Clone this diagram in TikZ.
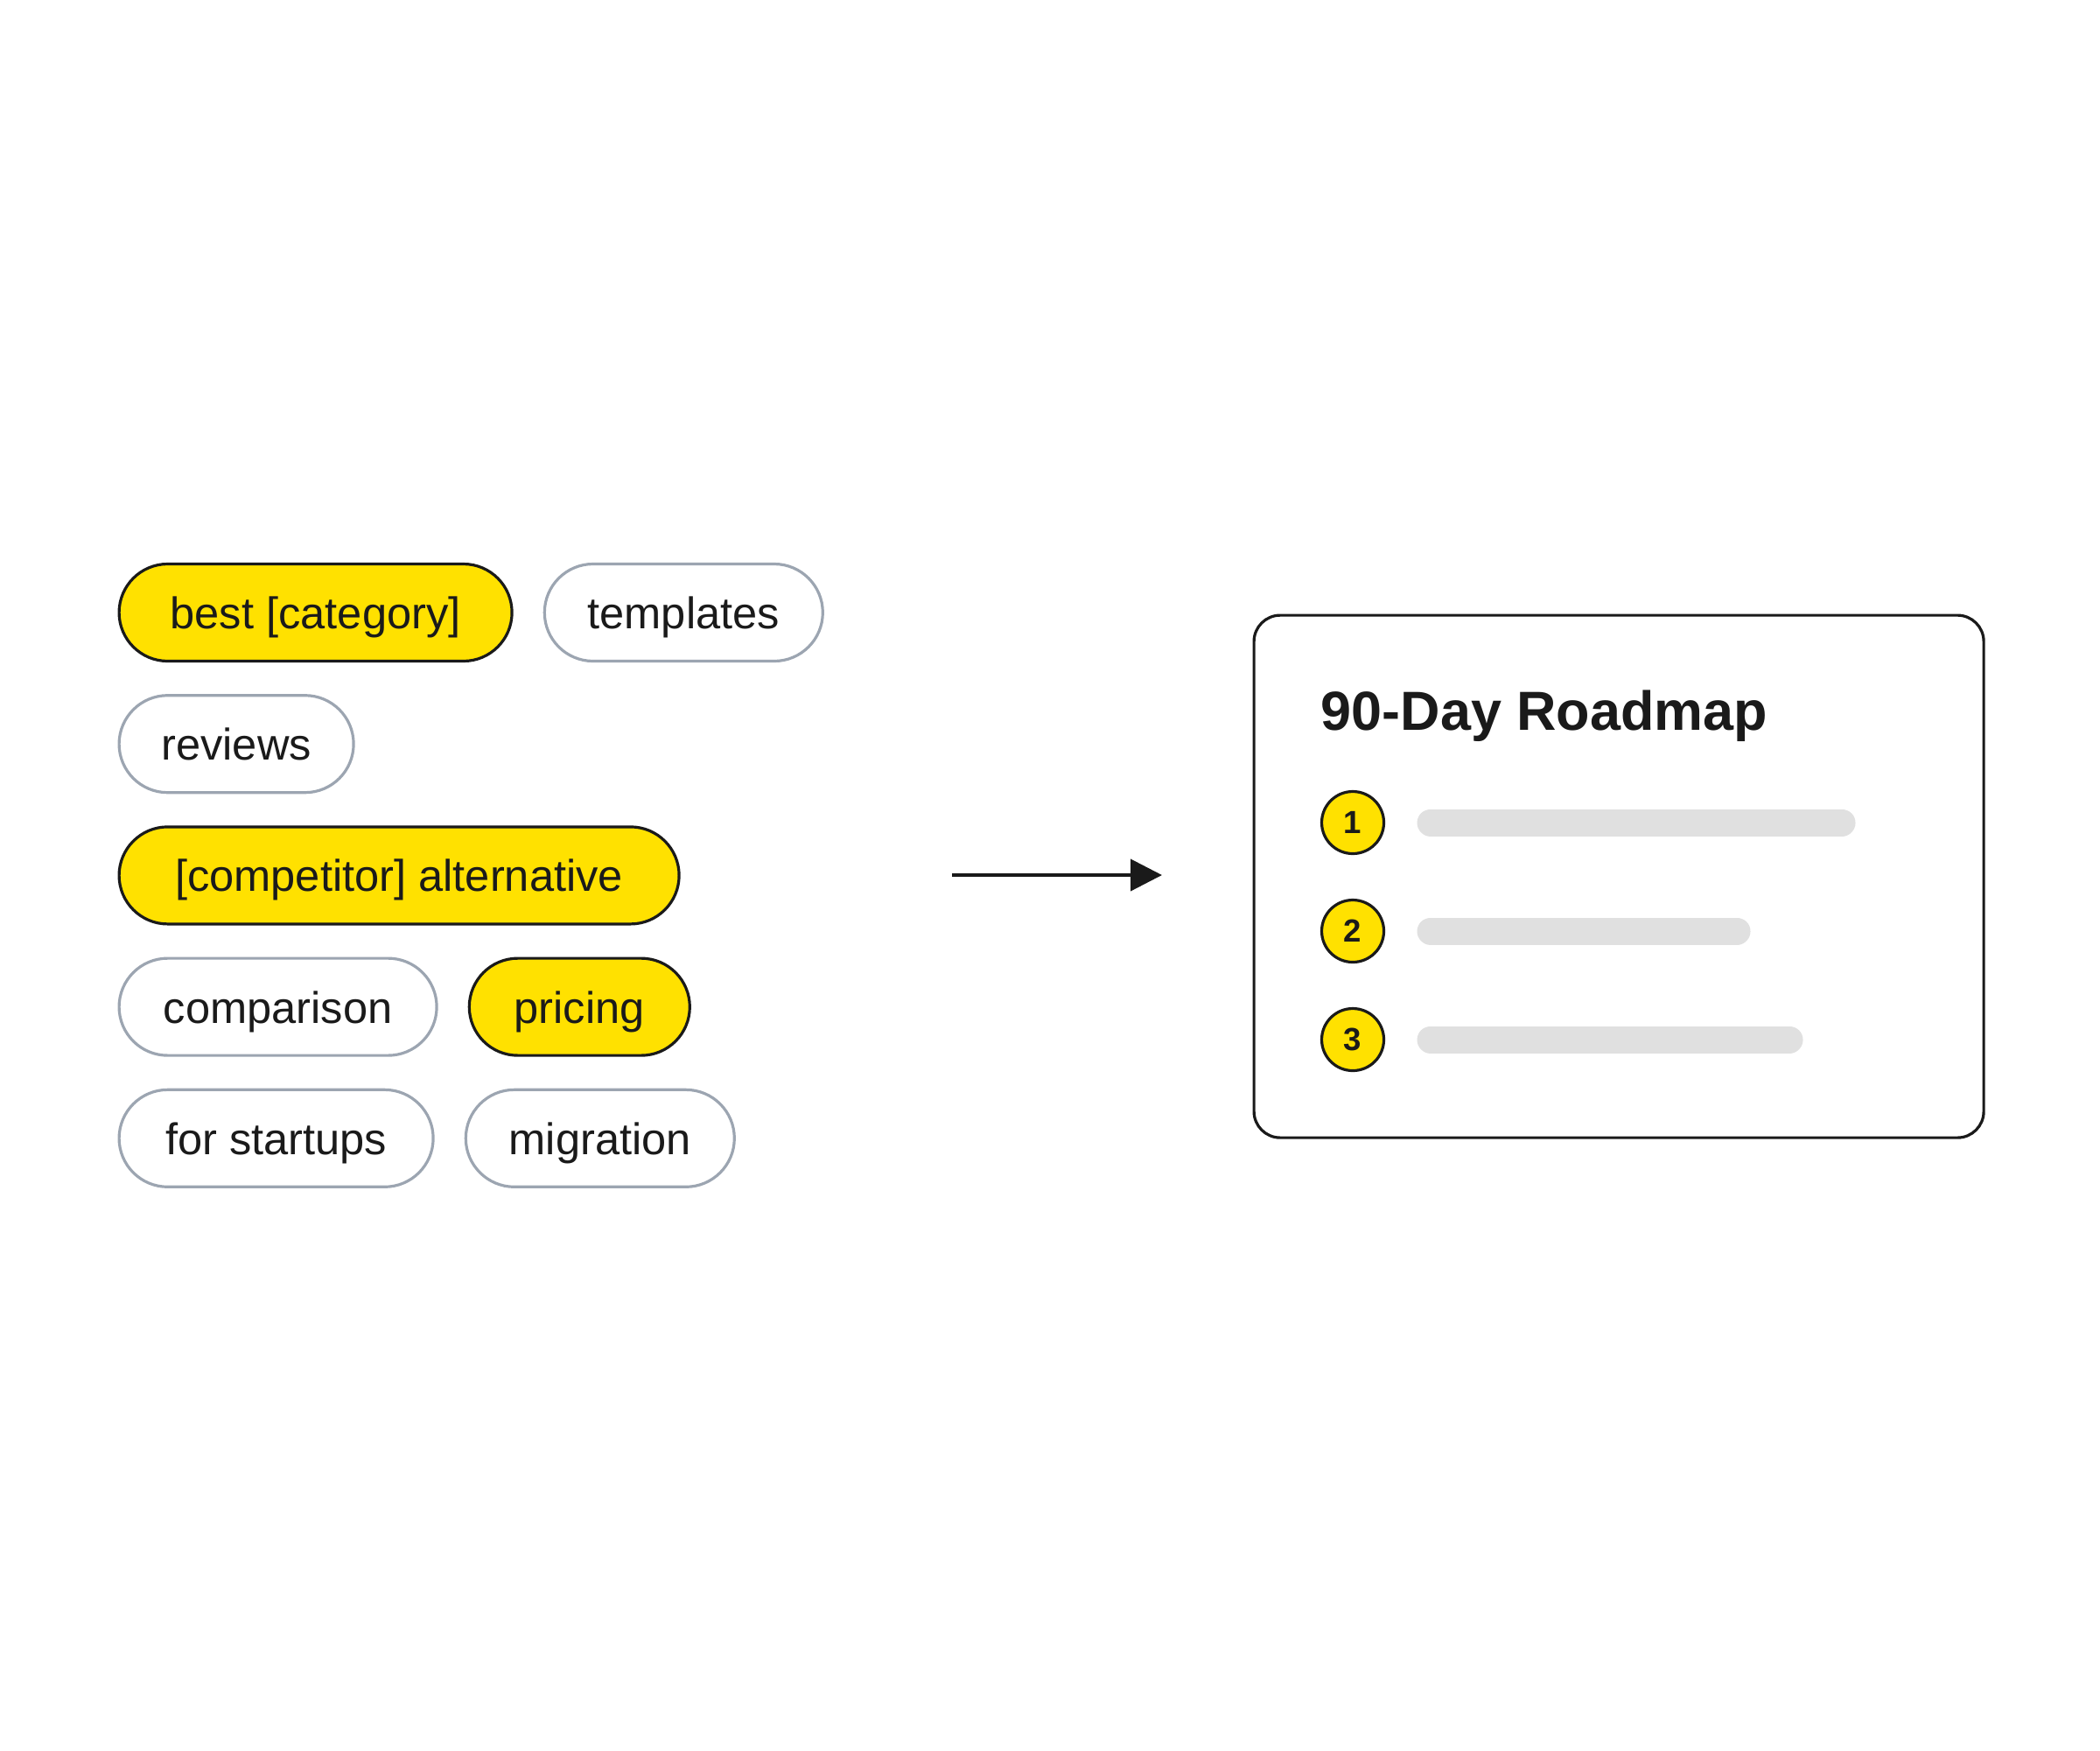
\documentclass[tikz,border=0pt]{standalone}
\usepackage{fontspec}
\setmainfont{Liberation Sans}
\usetikzlibrary{positioning,arrows.meta}

\definecolor{pillYellow}{HTML}{FFE100}
\definecolor{inkDark}{HTML}{1A1A1A}
\definecolor{pillGray}{HTML}{9CA5B1}
\definecolor{barGray}{HTML}{E0E0E0}

\begin{document}
\begin{tikzpicture}[
    pill/.style={rectangle, rounded corners=0.555cm, minimum height=1.11cm,
      inner sep=0pt, line width=0.032cm, text=inkDark,
      text height=0.37cm, text depth=0pt,
      font=\fontsize{14.4}{17}\selectfont},
    hotpill/.style={pill, draw=inkDark, fill=pillYellow},
    coldpill/.style={pill, draw=pillGray, fill=white},
    stepdot/.style={circle, draw=inkDark, fill=pillYellow, line width=0.032cm,
      minimum size=0.71cm, inner sep=0pt, text=inkDark,
      font=\bfseries\fontsize{10.4}{12}\selectfont},
    bar/.style={line width=0.31cm, line cap=round, barGray},
    node distance=0.36cm and 0.34cm
  ]
% Canvas
\useasboundingbox (0,0) rectangle (24,-20);

% Keyword pills, first column
\node[hotpill, minimum width=4.49cm, anchor=west] (best) at (1.345,-7.00) {best [category]};
\node[coldpill, minimum width=2.68cm, below=of best.south west, anchor=north west] (reviews) {reviews};
\node[hotpill, minimum width=6.40cm, below=of reviews.south west, anchor=north west] (competitor) {[competitor] alternative};
\node[coldpill, minimum width=3.63cm, below=of competitor.south west, anchor=north west] (comparison) {comparison};
\node[coldpill, minimum width=3.59cm, below=of comparison.south west, anchor=north west] (startups) {for startups};

% Keyword pills, second column
\node[coldpill, minimum width=3.18cm, right=of best] (templates) {templates};
\node[hotpill, minimum width=2.52cm, right=of comparison] (pricing) {pricing};
\node[coldpill, minimum width=3.07cm, right=of startups] (migration) {migration};

% Roadmap card
\node[draw=inkDark, line width=0.032cm, rounded corners=0.3cm, fill=white,
  minimum width=8.34cm, minimum height=5.97cm, anchor=north west] (card) at (14.315,-7.015) {};
\node[anchor=base west, text=inkDark, inner sep=0pt,
  font=\bfseries\fontsize{17.9}{22}\selectfont] (title) at (15.09,-8.34) {90-Day Roadmap};

% Numbered steps with placeholder lines
\node[stepdot] (n1) at (15.46,-9.40) {1};
\node[stepdot] (n2) at (15.46,-10.64) {2};
\node[stepdot] (n3) at (15.46,-11.88) {3};
\draw[bar] (16.35,-9.40) -- (21.05,-9.40);
\draw[bar] (16.35,-10.64) -- (19.85,-10.64);
\draw[bar] (16.35,-11.88) -- (20.45,-11.88);

% Arrow from pills to card
\coordinate (arrowStart) at (10.88,-10.00);
\coordinate (arrowEnd) at (13.28,-10.00);
\draw[inkDark, line width=0.04cm, -{Triangle[length=0.36cm, width=0.36cm]}] (arrowStart) -- (arrowEnd);
\end{tikzpicture}
\end{document}
